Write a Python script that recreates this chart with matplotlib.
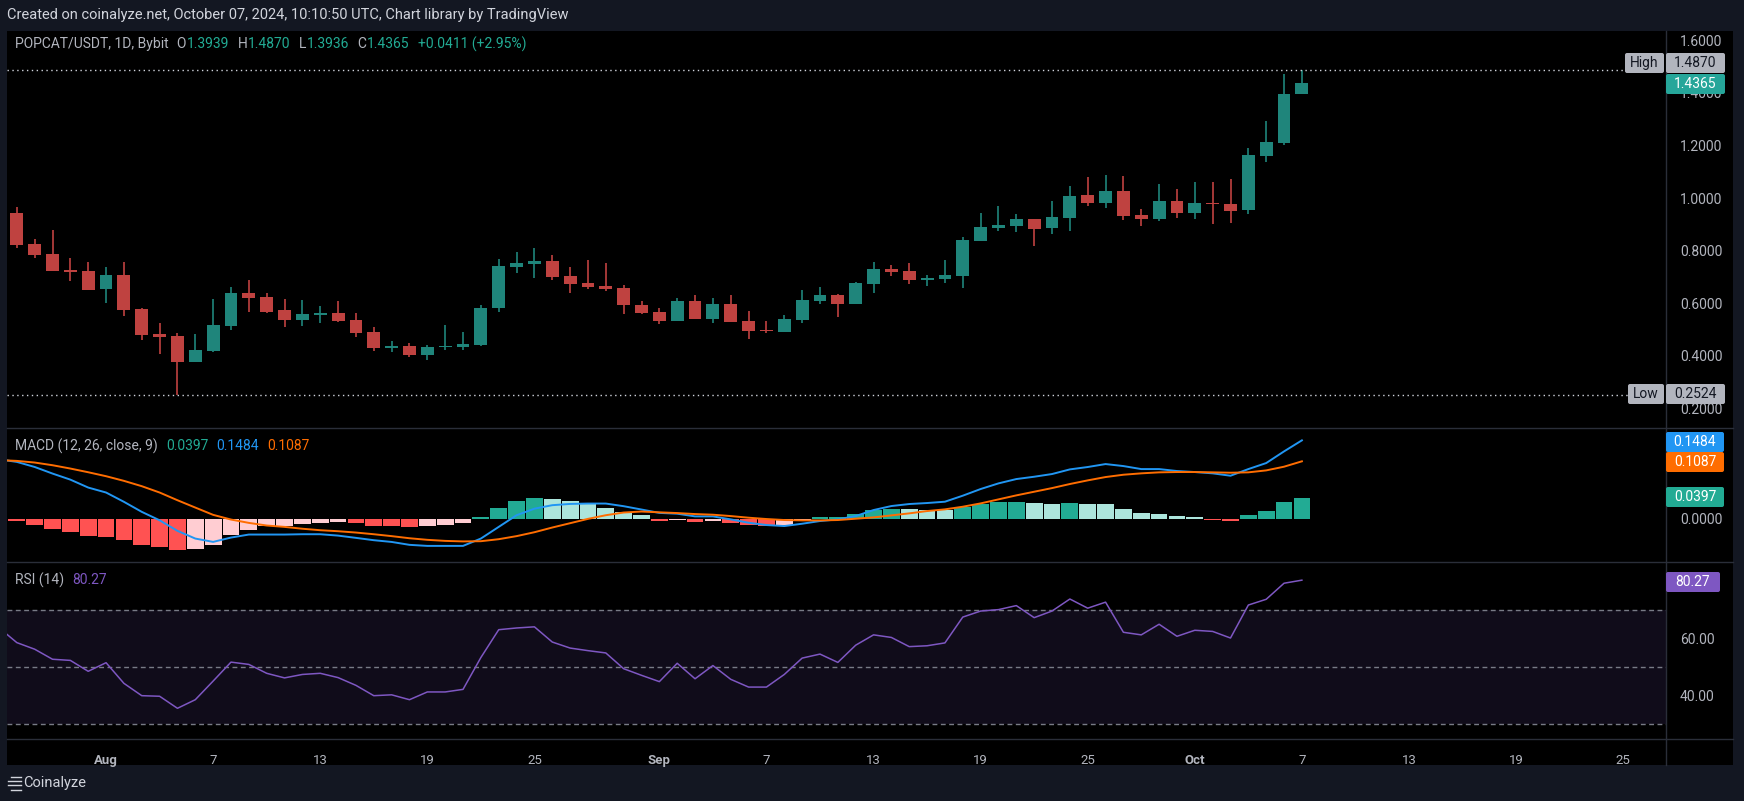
import matplotlib
matplotlib.use("Agg")
import matplotlib.pyplot as plt
import numpy as np
import pandas as pd
from matplotlib.patches import Rectangle, FancyBboxPatch
from matplotlib.lines import Line2D

# ---- data (POPCAT/USDT daily, Bybit) ----
start = "2024-07-27"
opens = [0.943, 0.825, 0.787, 0.726, 0.722, 0.655, 0.707, 0.578, 0.483, 0.475,
         0.378, 0.419, 0.514, 0.639, 0.624, 0.574, 0.537, 0.556, 0.563, 0.536,
         0.490, 0.431, 0.437, 0.404, 0.435, 0.433, 0.441, 0.582, 0.738, 0.749,
         0.760, 0.703, 0.677, 0.665, 0.658, 0.593, 0.567, 0.532, 0.608, 0.540,
         0.597, 0.532, 0.498, 0.490, 0.536, 0.608, 0.631, 0.597, 0.673, 0.730,
         0.722, 0.688, 0.692, 0.703, 0.837, 0.886, 0.894, 0.920, 0.886, 0.924,
         1.011, 0.981, 1.027, 0.935, 0.920, 0.989, 0.943, 0.981, 0.977, 0.954,
         1.160, 1.209, 1.3939]
highs = [0.966, 0.844, 0.878, 0.772, 0.757, 0.738, 0.757, 0.582, 0.525, 0.487,
         0.483, 0.616, 0.662, 0.688, 0.639, 0.616, 0.612, 0.589, 0.608, 0.563,
         0.510, 0.456, 0.449, 0.441, 0.517, 0.490, 0.593, 0.768, 0.795, 0.810,
         0.783, 0.738, 0.764, 0.753, 0.669, 0.608, 0.582, 0.620, 0.631, 0.620,
         0.631, 0.570, 0.532, 0.555, 0.650, 0.662, 0.635, 0.681, 0.757, 0.745,
         0.753, 0.707, 0.764, 0.852, 0.943, 0.970, 0.939, 0.920, 0.989, 1.046,
         1.080, 1.087, 1.084, 0.958, 1.053, 1.034, 1.061, 1.061, 1.072, 1.190,
         1.293, 1.471, 1.4870]
lows = [0.811, 0.772, 0.724, 0.686, 0.651, 0.602, 0.553, 0.461, 0.408, 0.2524,
        0.378, 0.416, 0.499, 0.568, 0.564, 0.511, 0.514, 0.526, 0.530, 0.473,
        0.419, 0.416, 0.397, 0.385, 0.423, 0.423, 0.437, 0.567, 0.715, 0.696,
        0.688, 0.639, 0.654, 0.646, 0.559, 0.559, 0.521, 0.532, 0.540, 0.525,
        0.529, 0.464, 0.487, 0.490, 0.525, 0.597, 0.548, 0.597, 0.639, 0.703,
        0.673, 0.665, 0.677, 0.658, 0.837, 0.875, 0.871, 0.817, 0.863, 0.875,
        0.970, 0.962, 0.916, 0.894, 0.913, 0.924, 0.920, 0.901, 0.905, 0.940,
        1.137, 1.201, 1.3936]
closes = [0.821, 0.783, 0.724, 0.720, 0.651, 0.707, 0.575, 0.480, 0.473, 0.378,
          0.422, 0.517, 0.639, 0.621, 0.568, 0.537, 0.559, 0.563, 0.533, 0.488,
          0.431, 0.437, 0.404, 0.433, 0.437, 0.445, 0.582, 0.741, 0.753, 0.760,
          0.700, 0.673, 0.662, 0.654, 0.593, 0.563, 0.532, 0.608, 0.540, 0.597,
          0.529, 0.494, 0.494, 0.540, 0.612, 0.631, 0.597, 0.677, 0.730, 0.719,
          0.688, 0.696, 0.707, 0.840, 0.890, 0.897, 0.920, 0.882, 0.928, 1.008,
          0.981, 1.027, 0.932, 0.920, 0.989, 0.943, 0.981, 0.977, 0.951, 1.163,
          1.213, 1.3954, 1.4365]

# indicators start one day earlier (Jul 26) so the lines reach the left edge
ind_start = "2024-07-26"
macd_line = [0.1125, 0.1076, 0.098, 0.0855, 0.074, 0.059, 0.0496, 0.032, 0.013, -0.003,
             -0.023, -0.0376, -0.0439, -0.0357, -0.030, -0.030, -0.030, -0.0294, -0.0294, -0.032,
             -0.0363, -0.0407, -0.044, -0.0495, -0.0515, -0.0515, -0.0515, -0.0376, -0.0155, 0.0066,
             0.019, 0.0256, 0.028, 0.0287, 0.0287, 0.0237, 0.0174, 0.0110, 0.0095, 0.0044,
             0.0044, -0.0013, -0.0076, -0.012, -0.0139, -0.0095, -0.0044, -0.0013, 0.005, 0.0164,
             0.024, 0.0278, 0.0297, 0.0322, 0.0436, 0.0562, 0.0669, 0.0751, 0.0795, 0.0846,
             0.0934, 0.0979, 0.1035, 0.0997, 0.094, 0.094, 0.0903, 0.0884, 0.0859, 0.0814,
             0.094, 0.1054, 0.1275, 0.1484]
signal_line = [0.1110, 0.1095, 0.1064, 0.1013, 0.095, 0.088, 0.0805, 0.0717, 0.0616, 0.0496,
               0.035, 0.0211, 0.0073, -0.0016, -0.0079, -0.0129, -0.0155, -0.019, -0.0218, -0.0237,
               -0.0262, -0.0294, -0.033, -0.037, -0.040, -0.042, -0.043, -0.0426, -0.0388, -0.033,
               -0.0256, -0.0167, -0.0085, -0.0003, 0.0066, 0.0117, 0.0136, 0.0121, 0.0107, 0.0088,
               0.0076, 0.005, 0.0019, -0.0006, -0.0025, -0.0032, -0.0032, -0.0025, 0.0, 0.0025,
               0.0063, 0.0101, 0.0145, 0.0177, 0.0227, 0.029, 0.0366, 0.0442, 0.0511, 0.058,
               0.0657, 0.0726, 0.0789, 0.0833, 0.0859, 0.0878, 0.0884, 0.0884, 0.0878, 0.0871,
               0.0878, 0.0915, 0.0985, 0.1087]
macd_hist = [0.002, -0.005, -0.011, -0.020, -0.025, -0.033, -0.034, -0.041, -0.050, -0.054,
             -0.059, -0.058, -0.049, -0.030, -0.021, -0.0145, -0.014, -0.010, -0.009, -0.007,
             -0.009, -0.013, -0.0145, -0.016, -0.014, -0.012, -0.009, 0.004, 0.021, 0.033,
             0.0385, 0.037, 0.033, 0.028, 0.021, 0.013, 0.007, -0.0035, -0.0028, -0.0063,
             -0.0044, -0.008, -0.011, -0.0135, -0.012, -0.003, 0.003, 0.0035, 0.009, 0.0164,
             0.0185, 0.018, 0.0165, 0.016, 0.022, 0.028, 0.031, 0.0318, 0.0297, 0.028,
             0.0297, 0.028, 0.0278, 0.018, 0.0107, 0.009, 0.005, 0.003, -0.003, -0.0044,
             0.007, 0.0145, 0.0316, 0.0397]
rsi = [63.7, 58.5, 56.2, 52.7, 52.3, 48.5, 51.5, 44.3, 40.0, 39.8,
       35.6, 38.6, 45.1, 51.7, 50.9, 47.8, 46.2, 47.4, 47.8, 46.3,
       43.6, 40.0, 40.3, 38.6, 41.3, 41.3, 42.2, 53.3, 63.0, 63.6,
       64.0, 58.7, 56.6, 55.7, 54.9, 49.4, 47.1, 44.9, 51.3, 45.9,
       50.5, 45.7, 43.0, 43.0, 47.4, 53.1, 54.5, 51.6, 57.6, 61.2,
       60.3, 57.1, 57.4, 58.4, 67.4, 69.5, 70.0, 71.4, 67.2, 69.5,
       73.7, 70.5, 72.6, 62.1, 61.2, 64.9, 60.7, 62.8, 62.4, 60.1,
       71.6, 73.6, 79.2, 80.27]

tick_dates = ["2024-08-01", "2024-08-07", "2024-08-13", "2024-08-19", "2024-08-25",
              "2024-09-01", "2024-09-07", "2024-09-13", "2024-09-19", "2024-09-25",
              "2024-10-01", "2024-10-07", "2024-10-13", "2024-10-19", "2024-10-25"]
tick_labels = ["Aug", "7", "13", "19", "25", "Sep", "7", "13", "19", "25",
               "Oct", "7", "13", "19", "25"]
price_ticks = [0.2, 0.4, 0.6, 0.8, 1.0, 1.2, 1.4, 1.6]
rsi_ticks = [40, 60]

# ---- colours ----
BG = "#131722"
GRID = "#2a2e39"
TXT = "#b2b5be"
UP, DOWN = "#1f857b", "#bf4240"
TEAL = "#22ab94"
BLUE, ORANGE, PURPLE = "#2196f3", "#ff6d00", "#7e57c2"
FONT = "Roboto"

W, H = 1744, 801
fig = plt.figure(figsize=(W / 100, H / 100), dpi=100, facecolor=BG)
plt.rcParams["font.family"] = [FONT, "DejaVu Sans"]


def fx(px):
    return px / W


def fy(py):
    return 1 - py / H


def box(x0, y0, x1, y1, color, z=5):
    fig.add_artist(Rectangle((fx(x0), fy(y1)), fx(x1) - fx(x0), fy(y0) - fy(y1),
                             transform=fig.transFigure, color=color, lw=0, zorder=z))


def label(x0, y0, x1, y1, text, bg, fg):
    # small rounded tag like the TradingView price labels (drawn in pixel units)
    fig.add_artist(FancyBboxPatch((x0, H - y1), x1 - x0, y1 - y0,
                                  boxstyle="round,pad=0,rounding_size=2",
                                  transform=None, color=bg, lw=0, zorder=5))
    fig.text(fx((x0 + x1) / 2), fy((y0 + y1) / 2), text, color=fg, fontsize=10,
             ha="center", va="center", zorder=6)


def hline(x0, x1, y, color=GRID):
    fig.add_artist(Line2D([fx(x0), fx(x1)], [fy(y), fy(y)], color=color, lw=1,
                          transform=fig.transFigure, zorder=4))


# black chart canvas, under the axes
box(7, 31, 1733, 765, "black", z=0.5)

L, R = 7, 1666


def pane(top, bottom):
    ax = fig.add_axes([fx(L), fy(bottom), fx(R) - fx(L), fy(top) - fy(bottom)])
    ax.set_facecolor("black")
    ax.set_zorder(2)
    for s in ax.spines.values():
        s.set_visible(False)
    ax.yaxis.tick_right()
    ax.tick_params(axis="y", length=0, pad=10, labelcolor=TXT, labelsize=10)
    ax.tick_params(axis="x", length=0, labelbottom=False)
    ax.set_xlim(-0.55, 92.4)
    return ax


t0 = pd.Timestamp(start)
x = np.arange(len(opens))
xi = np.arange(len(macd_line)) + (pd.Timestamp(ind_start) - t0).days

# ---- price pane ----
ax1 = pane(31, 427)
o, h, l, c = map(np.array, (opens, highs, lows, closes))
cols = np.where(c >= o, UP, DOWN)
ax1.vlines(x, l, h, colors=cols, lw=1.2)
ax1.bar(x, np.maximum(np.abs(c - o), 0.004), bottom=np.minimum(o, c), width=0.72,
        color=cols, lw=0)
ax1.set_ylim(0.1293, 1.635)
ax1.set_yticks(price_ticks)
ax1.set_yticklabels([f"{v:.4f}" for v in price_ticks])
hi, lo = max(highs), min(lows)
ax1.axhline(hi, xmax=(1625 - L) / (R - L), color="#d1d4dc", lw=1, ls=(0, (1, 2.5)))
ax1.axhline(lo, xmax=(1628 - L) / (R - L), color="#d1d4dc", lw=1, ls=(0, (1, 2.5)))

# ---- MACD pane ----
ax2 = pane(428, 561)
hv = np.array(macd_hist)
prev = np.r_[hv[0], hv[:-1]]
hcol = np.where(hv >= 0, np.where(hv >= prev, "#22ab94", "#ace5dc"),
                np.where(hv <= prev, "#ff5252", "#ffcdd2"))
ax2.bar(xi, hv, width=0.94, color=hcol, lw=0)
ax2.plot(xi, macd_line, color=BLUE, lw=1.4)
ax2.plot(xi, signal_line, color=ORANGE, lw=1.4)
ax2.set_ylim(-0.0801, 0.1718)
ax2.set_yticks([0.0])
ax2.set_yticklabels(["0.0000"])

# ---- RSI pane ----
ax3 = pane(562, 739)
ax3.axhspan(30, 70, color="#100c1a", lw=0)
for lv in (70, 50, 30):
    ax3.axhline(lv, color="#787b86", lw=1, ls=(0, (3.5, 2.5)))
ax3.plot(xi, rsi, color=PURPLE, lw=1.1)
ax3.set_ylim(24.9, 86.6)
ax3.set_yticks(rsi_ticks)
ax3.set_yticklabels([f"{v:.2f}" for v in rsi_ticks])
tpos = [(pd.Timestamp(d) - t0).days for d in tick_dates]
ax3.set_xticks(tpos)
ax3.set_xticklabels(tick_labels)
ax3.tick_params(axis="x", labelbottom=True, labelcolor=TXT, labelsize=9.5, pad=11)
for tl, txt in zip(ax3.get_xticklabels(), tick_labels):
    if not txt.isdigit():
        tl.set_fontweight("bold")

# ---- separators ----
for yy in (427.5, 561.5, 739):
    hline(7, 1733, yy)
fig.add_artist(Line2D([fx(1666), fx(1666)], [fy(31), fy(765)], color=GRID, lw=1,
                      transform=fig.transFigure, zorder=4))

# ---- axis labels / boxes ----
label(1625, 53, 1664, 73, "High", "#b2b5be", BG)
label(1666, 53, 1725, 73, f"{hi:.4f}", "#b2b5be", BG)
label(1666, 74, 1725, 94, f"{closes[-1]:.4f}", "#26a69a", "white")
label(1628, 384, 1664, 404, "Low", "#b2b5be", BG)
label(1666, 384, 1725, 404, f"{lo:.4f}", "#b2b5be", BG)
label(1666, 432, 1724, 452, f"{macd_line[-1]:.4f}", BLUE, "white")
label(1666, 452, 1724, 472, f"{signal_line[-1]:.4f}", ORANGE, "white")
label(1666, 487, 1724, 507, f"{macd_hist[-1]:.4f}", TEAL, "white")
label(1666, 572, 1720, 592, f"{rsi[-1]:.2f}", PURPLE, "white")

# ---- texts ----
renderer = fig.canvas.get_renderer()


def rich(x0, y0, parts, size=10):
    xx = x0
    for s, col, gap in parts:
        t = fig.text(fx(xx), fy(y0), s, color=col, fontsize=size, ha="left", va="center",
                     zorder=6)
        xx += t.get_window_extent(renderer).width + gap


fig.text(fx(7), fy(15), "Created on coinalyze.net, October 07, 2024, 10:10:50 UTC, "
         "Chart library by TradingView", color="#d1d4dc", fontsize=10.5, ha="left",
         va="center")
chg = closes[-1] - closes[-2]
rich(15, 44, [("POPCAT/USDT, 1D, Bybit", TXT, 8),
              ("O", TXT, 1), (f"{opens[-1]:.4f}", TEAL, 8),
              ("H", TXT, 1), (f"{highs[-1]:.4f}", TEAL, 8),
              ("L", TXT, 1), (f"{lows[-1]:.4f}", TEAL, 8),
              ("C", TXT, 1), (f"{closes[-1]:.4f}", TEAL, 8),
              (f"+{chg:.4f} (+{chg / closes[-2] * 100:.2f}%)", TEAL, 0)])
rich(15, 446, [("MACD (12, 26, close, 9)", TXT, 8),
               (f"{macd_hist[-1]:.4f}", TEAL, 8),
               (f"{macd_line[-1]:.4f}", BLUE, 8),
               (f"{signal_line[-1]:.4f}", ORANGE, 0)])
rich(15, 580, [("RSI (14)", TXT, 8), (f"{rsi[-1]:.2f}", PURPLE, 0)])

# footer logo
for yy, x0, x1 in ((777, 11, 21), (781, 8, 21), (785, 8, 21), (790, 11, 21)):
    hline(x0, x1, yy, "#d1d4dc")
fig.text(fx(23), fy(783), "Coinalyze", color="#d1d4dc", fontsize=10.5, ha="left",
         va="center")

fig.savefig("out.png", dpi=100, facecolor=BG)
